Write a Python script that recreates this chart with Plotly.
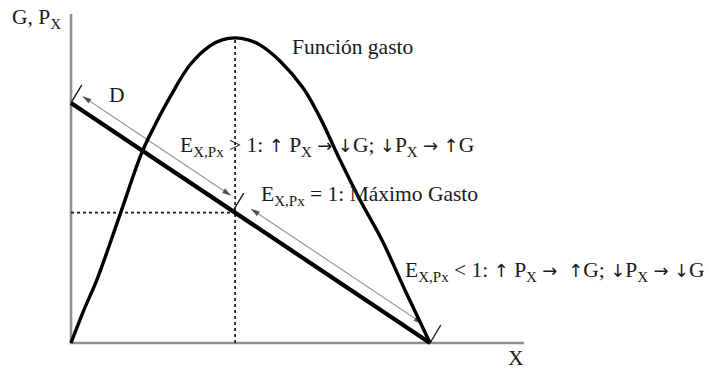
import plotly.graph_objects as go

# Función gasto G = P·X, read as a smooth hump over the demand range
gasto_x = [0.00, 0.36, 0.72, 1.36, 1.98, 2.34, 2.76, 3.31, 3.87, 4.21, 4.57,
           4.93, 5.26, 5.82, 6.46, 6.94, 7.49, 8.05, 8.66, 9.30, 10.00]
gasto_y = [0.00, 1.38, 2.63, 5.33, 7.96, 9.08, 10.25, 11.58, 12.38, 12.63, 12.71,
           12.63, 12.42, 11.75, 10.63, 9.38, 7.63, 5.96, 4.29, 2.21, 0.00]

# Linear demand D: P = 10 - X
demanda_x = [0.0, 10.0]
demanda_y = [10.0, 0.0]

# Point of maximum expenditure (unit elasticity)
max_x = 4.57
max_p = 10.0 - max_x
max_g = 12.71

# Thin guide arrows running parallel to D (elastic / inelastic stretches)
offset_flecha = 0.6
tramo_elastico = [0.33, 4.45]
tramo_inelastico = [5.02, 9.78]

# Small slash marks on D
marcas_x = [0.0, 4.51, 10.0]

FONT = "Liberation Serif, Times New Roman, serif"
INK = "#1a1a1a"

fig = go.Figure()

# Axes drawn as plain gray lines
fig.add_trace(go.Scatter(x=[0, 0, 12.62], y=[13.71, 0, 0], mode="lines",
                         line=dict(color="#8f8f8f", width=2.6), hoverinfo="skip"))

# Dashed guides to the maximum
fig.add_trace(go.Scatter(x=[max_x, max_x], y=[0, max_g], mode="lines",
                         line=dict(color=INK, width=1.7, dash="3px,3px"), hoverinfo="skip"))
fig.add_trace(go.Scatter(x=[0, max_x], y=[max_p, max_p], mode="lines",
                         line=dict(color=INK, width=1.7, dash="3px,3px"), hoverinfo="skip"))

# Gray guide arrows (line + heads at both ends)
def guia(x0, x1):
    y0 = 10.0 - x0 + offset_flecha
    y1 = 10.0 - x1 + offset_flecha
    fig.add_trace(go.Scatter(x=[x0, x1], y=[y0, y1], mode="lines",
                             line=dict(color="#9a9a9a", width=1.2), hoverinfo="skip"))
    for (ax, ay), (bx, by) in (((x1, y1), (x0, y0)), ((x0, y0), (x1, y1))):
        fig.add_trace(go.Scatter(
            x=[ax, bx], y=[ay, by], mode="markers",
            marker=dict(symbol="arrow", size=[0, 9], angleref="previous",
                        color=INK, line=dict(width=0)),
            hoverinfo="skip"))

guia(*tramo_elastico)
guia(*tramo_inelastico)

# Expenditure function
fig.add_trace(go.Scatter(x=gasto_x, y=gasto_y, mode="lines",
                         line=dict(color="#000000", width=3.4, shape="spline", smoothing=1.0),
                         hoverinfo="skip"))

# Demand
fig.add_trace(go.Scatter(x=demanda_x, y=demanda_y, mode="lines",
                         line=dict(color="#000000", width=4.2), hoverinfo="skip"))

# Slash marks
for mx in marcas_x:
    my = 10.0 - mx
    fig.add_trace(go.Scatter(x=[mx, mx + 0.30], y=[my, my + 0.75], mode="lines",
                             line=dict(color=INK, width=1.4), hoverinfo="skip"))

def texto(x, y, s, size=21.5, anchor="left"):
    fig.add_annotation(x=x, y=y, xref="x", yref="y", text=s, showarrow=False,
                       xanchor=anchor, yanchor="middle",
                       font=dict(family=FONT, size=size, color=INK))

def flecha(c):
    return '<span style="font-family:DejaVu Sans;font-size:18px">' + c + '</span>'

UP, DOWN, RIGHT = flecha("↑"), flecha("↓"), flecha("→")
E = "E<sub>X,Px</sub>"
PX = "P<sub>X</sub>"

texto(-1.70, 13.54, "G, P<sub>X</sub>")
texto(6.10, 12.33, "Función gasto")
texto(1.28, 10.33, "D", anchor="center")
texto(2.98, 8.20, E + " > 1: " + UP + " " + PX + " " + RIGHT + " " + DOWN + "G; "
      + DOWN + PX + " " + RIGHT + " " + UP + "G")
texto(5.23, 6.15, E + " = 1: Máximo Gasto")
texto(9.25, 3.00, E + " < 1: " + UP + " " + PX + " " + RIGHT + "  " + UP + "G; "
      + DOWN + PX + " " + RIGHT + " " + DOWN + "G")
texto(12.40, -0.62, "X", anchor="center")

fig.update_layout(
    width=709, height=369,
    margin=dict(l=0, r=0, t=0, b=0),
    paper_bgcolor="white", plot_bgcolor="white",
    showlegend=False,
    xaxis=dict(range=[-1.978, 17.77], visible=False, fixedrange=True),
    yaxis=dict(range=[-1.083, 14.29], visible=False, fixedrange=True),
)

fig.write_html("out.html")
